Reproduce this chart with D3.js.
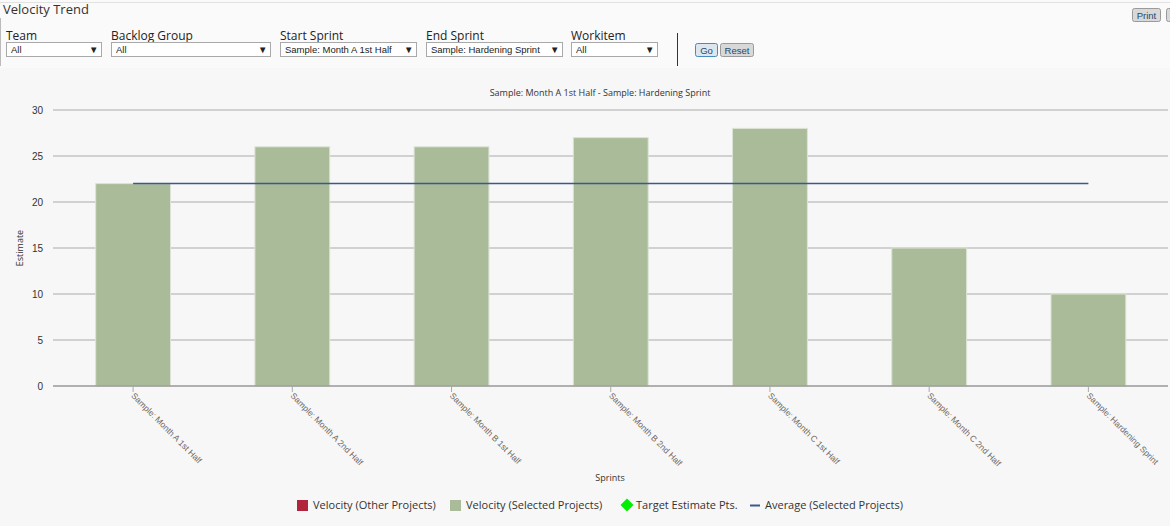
<!DOCTYPE html>
<html lang="en">
<head>
  <meta charset="UTF-8">
  <title>Velocity Trend</title>
  <script src="https://d3js.org/d3.v7.min.js"></script>
  <style>
    html, body { margin: 0; padding: 0; background: #f7f7f7; }
    svg { display: block; font-family: "Open Sans", sans-serif; }
    .lbl { font-size: 12px; fill: #222; }
    .sel text { font-size: 9.5px; fill: #222; font-family: Arial, "Liberation Sans", sans-serif; }
    .btn text { font-size: 9.5px; fill: #1a4a70; font-family: Arial, "Liberation Sans", sans-serif; }
    .grid line { stroke: #c4c4c4; stroke-width: 1.5px; }
    .yaxis text { font-size: 10px; fill: #333; }
    .xaxis text { font-size: 8.5px; fill: #6e6660; }
    .legend text { font-size: 11px; fill: #333; }
  </style>
</head>
<body>
  <svg id="chart" width="1170" height="526"></svg>

  <script>
    const sprints = [
      "Sample: Month A 1st Half",
      "Sample: Month A 2nd Half",
      "Sample: Month B 1st Half",
      "Sample: Month B 2nd Half",
      "Sample: Month C 1st Half",
      "Sample: Month C 2nd Half",
      "Sample: Hardening Sprint"
    ];
    const velocitySelected = [22, 26, 26, 27, 28, 15, 10];
    const averageSelected = [22, 22, 22, 22, 22, 22, 22];
    const yTicks = [0, 5, 10, 15, 20, 25, 30];

    const filters = [
      { label: "Team", value: "All", x: 6, w: 96 },
      { label: "Backlog Group", value: "All", x: 111, w: 160 },
      { label: "Start Sprint", value: "Sample: Month A 1st Half", x: 280, w: 137 },
      { label: "End Sprint", value: "Sample: Hardening Sprint", x: 426, w: 137 },
      { label: "Workitem", value: "All", x: 571, w: 87 }
    ];

    const legendItems = [
      { name: "Velocity (Other Projects)", type: "rect", color: "#b0243c" },
      { name: "Velocity (Selected Projects)", type: "rect", color: "#aabb99" },
      { name: "Target Estimate Pts.", type: "diamond", color: "#00ee00" },
      { name: "Average (Selected Projects)", type: "line", color: "#3a5a8c" }
    ];

    const svg = d3.select("#chart");

    // page header / filter bar
    svg.append("rect").attr("x", 0).attr("y", 0).attr("width", 1170).attr("height", 68).attr("fill", "#fafafa");
    svg.append("line").attr("x1", 0).attr("x2", 1170).attr("y1", 2.5).attr("y2", 2.5).attr("stroke", "#e2e2e2");
    svg.append("line").attr("x1", 0.5).attr("x2", 0.5).attr("y1", 18).attr("y2", 66).attr("stroke", "#bbb");
    svg.append("text").attr("x", 3).attr("y", 14).attr("font-size", "13px").attr("fill", "#333").text("Velocity Trend");

    filters.forEach(f => {
      svg.append("text").attr("class", "lbl").attr("x", f.x).attr("y", 40).text(f.label);
      const g = svg.append("g").attr("class", "sel").attr("transform", `translate(${f.x},42)`);
      g.append("rect").attr("x", 0.5).attr("y", 0.5).attr("width", f.w - 1).attr("height", 14)
        .attr("fill", "#fff").attr("stroke", "#a9a9a9");
      g.append("text").attr("x", 5).attr("y", 11).text(f.value);
      g.append("text").attr("x", f.w - 13).attr("y", 11).attr("font-size", "9px").text("▼");
    });

    svg.append("line").attr("x1", 677.5).attr("x2", 677.5).attr("y1", 33).attr("y2", 66).attr("stroke", "#333");

    function button(x, y, w, label, focused) {
      const g = svg.append("g").attr("class", "btn").attr("transform", `translate(${x},${y})`);
      g.append("rect").attr("x", 0.5).attr("y", 0.5).attr("width", w).attr("height", 13).attr("rx", 2)
        .attr("fill", focused ? "#dde6ee" : "#d8d8d8").attr("stroke", focused ? "#4a8ac0" : "#9a9a9a");
      g.append("text").attr("x", w / 2 + 0.5).attr("y", 10.5).attr("text-anchor", "middle").text(label);
    }
    button(695, 43, 22, "Go", true);
    button(720, 43, 33, "Reset", false);
    button(1132, 8, 28, "Print", false);
    button(1166, 8, 12, "", false);

    // chart
    const x = d3.scaleBand().domain(sprints).range([53.5, 1168]).paddingInner(0.53).paddingOuter(0.265);
    const y = d3.scaleLinear().domain([0, 30]).range([386, 110]);

    svg.append("text").attr("x", 600).attr("y", 96).attr("text-anchor", "middle")
      .attr("font-size", "9px").attr("fill", "#333")
      .text("Sample: Month A 1st Half - Sample: Hardening Sprint");

    svg.append("g").attr("class", "grid")
      .selectAll("line").data(yTicks.filter(d => d > 0)).join("line")
      .attr("x1", 53).attr("x2", 1168)
      .attr("y1", d => y(d)).attr("y2", d => y(d));

    const yAxis = svg.append("g").attr("class", "yaxis")
      .attr("transform", "translate(53,0)")
      .call(d3.axisLeft(y).tickValues(yTicks).tickSize(0).tickPadding(10));
    yAxis.select(".domain").remove();

    svg.append("text").attr("transform", "translate(23,248) rotate(-90)")
      .attr("text-anchor", "middle").attr("font-size", "9px").attr("fill", "#333").text("Estimate");

    svg.append("g").selectAll("rect").data(velocitySelected).join("rect")
      .attr("x", (d, i) => x(sprints[i]))
      .attr("y", d => y(d))
      .attr("width", x.bandwidth())
      .attr("height", d => y(0) - y(d))
      .attr("fill", "#aabb99")
      .attr("stroke", "#dde3d5").attr("stroke-width", 1);

    const xAxis = svg.append("g").attr("class", "xaxis")
      .attr("transform", "translate(0,386)")
      .call(d3.axisBottom(x).tickSize(6).tickPadding(0));
    xAxis.select(".domain").attr("stroke", "#999").attr("stroke-width", 1.5).attr("d", "M53,0H1168");
    xAxis.selectAll(".tick line").attr("stroke", "#aaa");
    xAxis.selectAll(".tick text")
      .attr("text-anchor", "start")
      .attr("transform", "translate(4,4) rotate(45)")
      .attr("dy", "0.35em");

    const line = d3.line()
      .x((d, i) => x(sprints[i]) + x.bandwidth() / 2)
      .y(d => y(d));
    svg.append("path").datum(averageSelected)
      .attr("d", line).attr("fill", "none").attr("stroke", "#3a5a8c").attr("stroke-width", 1.5);

    svg.append("text").attr("x", 610).attr("y", 481).attr("text-anchor", "middle")
      .attr("font-size", "9px").attr("fill", "#333").text("Sprints");

    // legend
    const legendX = [297, 450, 618, 749];
    const legend = svg.append("g").attr("class", "legend");
    legendItems.forEach((item, i) => {
      const g = legend.append("g").attr("transform", `translate(${legendX[i]},505)`);
      let tx = 16;
      if (item.type === "rect") {
        g.append("rect").attr("x", 0).attr("y", -5).attr("width", 11).attr("height", 11).attr("fill", item.color);
      } else if (item.type === "diamond") {
        g.append("path").attr("d", "M9,-6.5L15.5,0L9,6.5L2.5,0Z").attr("fill", item.color);
        tx = 18;
      } else {
        g.append("line").attr("x1", 1).attr("x2", 11).attr("y1", 0.5).attr("y2", 0.5)
          .attr("stroke", item.color).attr("stroke-width", 2);
      }
      g.append("text").attr("x", tx).attr("y", 4).text(item.name);
    });
  </script>
</body>
</html>
